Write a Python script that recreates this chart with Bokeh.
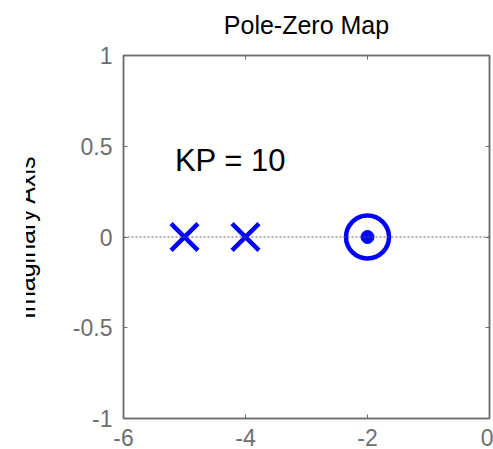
from bokeh.plotting import figure
from bokeh.models import Label, Span, FixedTicker, LinearAxis, Range1d
from bokeh.embed import file_html
from bokeh.resources import INLINE

# ---- data ----
pole_re = [-5.0, -4.0]
pole_im = [0.0, 0.0]
zero_re = [-2.0]
zero_im = [0.0]
dot_re = [-2.0]
dot_im = [0.0]
x_ticks = [-6, -4, -2, 0]
x_tick_labels = ["-6", "-4", "-2", "0"]
y_ticks = [-1, -0.5, 0, 0.5, 1]
y_tick_labels = ["-1", "-0.5", "0", "0.5", "1"]
title_text = "Pole-Zero Map"
ylabel_text = "Imaginary Axis"
gain_text = "KP = 10"

FONT = "Liberation Sans"
GRAY = "#6e6e6e"
BLUE = "#0000ff"

p = figure(width=485, height=449, output_backend="svg", toolbar_location=None,
           x_range=Range1d(-6, 0), y_range=Range1d(-1, 1),
           min_border_left=115, min_border_right=4, min_border_top=55, min_border_bottom=31,
           x_axis_location=None, y_axis_location=None)
p.margin = (0, 0, 0, 8)
# the reference cuts the y-axis title at its left edge
p.styles = {"clip-path": "inset(0px 0px 0px 18px)"}
p.grid.visible = False
p.background_fill_color = "white"
p.border_fill_color = "white"
p.outline_line_color = GRAY
p.outline_line_width = 1.5


def style_axis(ax, ticks, labels, show_labels=True):
    ax.ticker = FixedTicker(ticks=ticks)
    ax.axis_line_color = GRAY
    ax.axis_line_width = 1.5
    ax.major_tick_line_color = GRAY
    ax.major_tick_line_width = 1
    ax.major_tick_in = 4
    ax.major_tick_out = 0
    ax.minor_tick_line_color = None
    ax.major_label_text_font = FONT
    if show_labels:
        ax.major_label_overrides = {t: l for t, l in zip(ticks, labels)}
        ax.major_label_text_color = GRAY
        ax.major_label_text_font_size = "23px"
    else:
        ax.major_label_overrides = {t: "" for t in ticks}
        ax.major_label_text_color = None
        ax.major_label_text_font_size = "1px"
        ax.major_label_standoff = 0


xb = LinearAxis()
style_axis(xb, x_ticks, x_tick_labels)
xb.major_label_standoff = 10
p.add_layout(xb, "below")

yl = LinearAxis()
style_axis(yl, y_ticks, y_tick_labels)
yl.major_label_standoff = 11
yl.axis_label = ylabel_text
yl.axis_label_text_font = FONT
yl.axis_label_text_font_size = "25px"
yl.axis_label_text_font_style = "normal"
yl.axis_label_text_color = "#000000"
yl.axis_label_standoff = 30
p.add_layout(yl, "left")

# top box edge: ticks only, carries the chart title
xt = LinearAxis()
style_axis(xt, x_ticks, x_tick_labels, show_labels=False)
xt.axis_label = title_text
xt.axis_label_text_font = FONT
xt.axis_label_text_font_size = "25px"
xt.axis_label_text_font_style = "normal"
xt.axis_label_text_color = "#000000"
xt.axis_label_standoff = 17
p.add_layout(xt, "above")

yr = LinearAxis()
style_axis(yr, y_ticks, y_tick_labels, show_labels=False)
p.add_layout(yr, "right")

# real axis dotted line
p.add_layout(Span(location=0, dimension="width", line_color="#606060",
                  line_width=1, line_dash="2 2"))

# poles
p.scatter(pole_re, pole_im, marker="x", size=38, line_color=BLUE, line_width=4.5)
# zero
p.scatter(zero_re, zero_im, marker="circle", size=43, fill_color=None,
          line_color=BLUE, line_width=4.5)
p.scatter(dot_re, dot_im, marker="circle", size=13, fill_color=BLUE, line_color=BLUE)

p.add_layout(Label(x=-5.157, y=0.419, text=gain_text, text_font=FONT,
                   text_font_size="31px", text_color="#000000",
                   text_baseline="middle", text_align="left"))

open("out.html", "w").write(file_html(p, INLINE))
